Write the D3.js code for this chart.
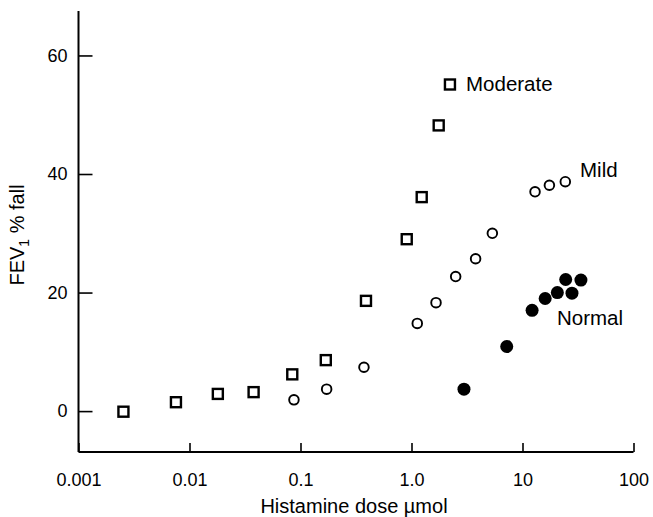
<!DOCTYPE html>
<html>
<head>
<meta charset="utf-8">
<script src="https://cdn.jsdelivr.net/npm/d3@7"></script>
<style>
html,body{margin:0;padding:0;background:#fff;}
svg{display:block;font-family:"Liberation Sans",Arial,Helvetica,sans-serif;}
</style>
</head>
<body>
<svg id="chart" width="653" height="517"></svg>
<script>
// Data
const moderateDose = [0.00254, 0.00755, 0.018, 0.0378, 0.0843, 0.169, 0.389, 0.906, 1.236, 1.758, 2.22];
const moderateFall = [-0.1, 1.5, 2.9, 3.2, 6.2, 8.6, 18.6, 29.0, 36.1, 48.2, 55.1];
const mildDose = [0.0873, 0.172, 0.373, 1.127, 1.663, 2.50, 3.78, 5.35, 12.97, 17.47, 24.3];
const mildFall = [1.9, 3.7, 7.4, 14.8, 18.3, 22.7, 25.7, 30.0, 37.0, 38.1, 38.7];
const normalDose = [2.97, 7.21, 12.2, 16.0, 20.6, 24.5, 27.9, 33.6];
const normalFall = [3.7, 10.9, 17.0, 19.0, 20.0, 22.2, 19.9, 22.1];
const xTicks = [0.001, 0.01, 0.1, 1, 10, 100];
const xTickLabels = ["0.001", "0.01", "0.1", "1.0", "10", "100"];
const yTicks = [0, 20, 40, 60];
const seriesLabels = ["Moderate", "Mild", "Normal"];

const svg = d3.select("#chart");
const x = d3.scaleLog().domain([0.001, 100]).range([78.5, 633.5]);
const y = d3.scaleLinear().domain([-6.9, 67.5]).range([452, 11]);

const ink = "#000";
const ff = "'Liberation Sans',Arial,Helvetica,sans-serif";

// Axes
const xAxis = d3.axisBottom(x).tickValues(xTicks).tickSize(-9).tickPadding(21)
  .tickFormat((d, i) => xTickLabels[i]);
const gx = svg.append("g").attr("transform", `translate(0,${y(-6.9)})`).call(xAxis);
gx.attr("font-size", 18).attr("font-family", ff);
gx.select(".domain").attr("d", `M${x(0.001)},0H${x(100)}`).attr("stroke", ink).attr("stroke-width", 2);
gx.selectAll(".tick line").attr("stroke", ink).attr("stroke-width", 1.6);
gx.selectAll(".tick text").style("font-size", "18px").attr("fill", ink);

const yAxis = d3.axisLeft(y).tickValues(yTicks).tickSize(-14).tickPadding(11);
const gy = svg.append("g").attr("transform", `translate(${x(0.001)},0)`).call(yAxis);
gy.attr("font-size", 18).attr("font-family", ff);
gy.select(".domain").attr("d", `M0,${y(67.5)}V${y(-6.9)}`).attr("stroke", ink).attr("stroke-width", 2);
gy.selectAll(".tick line").attr("stroke", ink).attr("stroke-width", 1.6);
gy.selectAll(".tick text").style("font-size", "18px").attr("fill", ink);

// Axis titles
svg.append("text").attr("x", 354).attr("y", 513).attr("text-anchor", "middle")
  .style("font-size", "20px").attr("fill", ink).text("Histamine dose \u00B5mol");

const yl = svg.append("text").attr("transform", "translate(24,235) rotate(-90)")
  .attr("text-anchor", "middle").style("font-size", "20px").attr("fill", ink);
yl.append("tspan").text("FEV");
yl.append("tspan").style("font-size", "14px").attr("dy", 5).text("1");
yl.append("tspan").attr("dy", -5).text(" % fall");

// Moderate: open squares
const s = 10;
svg.append("g").selectAll("rect").data(d3.zip(moderateDose, moderateFall)).join("rect")
  .attr("x", d => x(d[0]) - s / 2).attr("y", d => y(d[1]) - s / 2)
  .attr("width", s).attr("height", s)
  .attr("fill", "#fff").attr("stroke", ink).attr("stroke-width", 2.4);

// Mild: open circles
svg.append("g").selectAll("circle").data(d3.zip(mildDose, mildFall)).join("circle")
  .attr("cx", d => x(d[0])).attr("cy", d => y(d[1])).attr("r", 4.8)
  .attr("fill", "#fff").attr("stroke", ink).attr("stroke-width", 1.9);

// Normal: filled circles
svg.append("g").selectAll("circle").data(d3.zip(normalDose, normalFall)).join("circle")
  .attr("cx", d => x(d[0])).attr("cy", d => y(d[1])).attr("r", 6.5)
  .attr("fill", ink);

// Series labels
const lab = [
  {t: seriesLabels[0], px: 466, py: 91},
  {t: seriesLabels[1], px: 580, py: 177},
  {t: seriesLabels[2], px: 557, py: 325}
];
svg.append("g").selectAll("text").data(lab).join("text")
  .attr("x", d => d.px).attr("y", d => d.py).style("font-size", "20.5px").attr("fill", ink)
  .text(d => d.t);
</script>
</body>
</html>
